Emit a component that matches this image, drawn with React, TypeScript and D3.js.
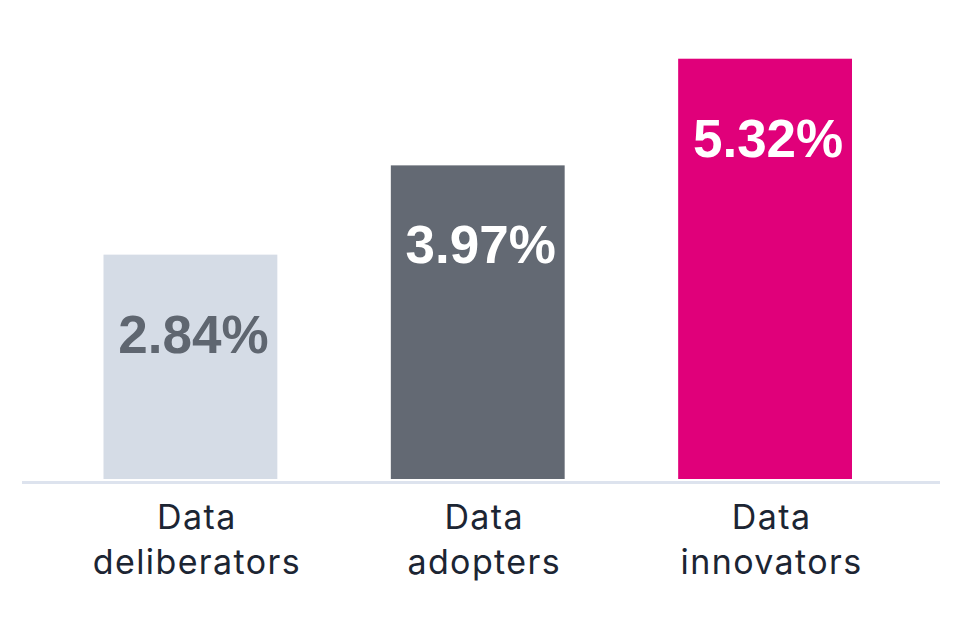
import React, { useEffect, useRef } from 'react';
import * as d3 from 'd3';

const categories = ['Data deliberators', 'Data adopters', 'Data innovators'];
const values = [2.84, 3.97, 5.32];
const valueLabels = ['2.84%', '3.97%', '5.32%'];
const barColors = ['#d5dce6', '#636973', '#e0007a'];
const labelColors = ['#5f6670', '#ffffff', '#ffffff'];

const App: React.FC = () => {
  const svgRef = useRef<SVGSVGElement>(null);

  useEffect(() => {
    if (!svgRef.current) return;
    const svg = d3.select(svgRef.current);
    svg.selectAll('*').remove();

    const x = d3.scaleBand<string>()
      .domain(categories)
      .range([103.5, 852])
      .paddingInner(0.395)
      .paddingOuter(0);

    const y = d3.scaleLinear().domain([0, 6]).range([479, 5]);

    // baseline
    svg.append('line')
      .attr('x1', 22).attr('x2', 940)
      .attr('y1', 482.5).attr('y2', 482.5)
      .attr('stroke', '#dde3ee')
      .attr('stroke-width', 3);

    const data = categories.map((c, i) => ({ c, v: values[i], label: valueLabels[i], i }));

    svg.selectAll('.bar')
      .data(data)
      .join('rect')
      .attr('class', 'bar')
      .attr('x', d => x(d.c)!)
      .attr('width', x.bandwidth())
      .attr('y', d => y(d.v))
      .attr('height', d => y(0) - y(d.v))
      .attr('fill', d => barColors[d.i]);

    svg.selectAll('.val')
      .data(data)
      .join('text')
      .attr('class', 'val')
      .attr('x', d => x(d.c)! + x.bandwidth() / 2 + 3)
      .attr('y', d => y(d.v) + 98)
      .attr('text-anchor', 'middle')
      .attr('fill', d => labelColors[d.i])
      .style('font-family', '"Liberation Sans", Arial, sans-serif')
      .style('font-weight', 'bold')
      .style('font-size', '53px')
      .text(d => d.label);

    // category labels, two lines each
    const cat = svg.selectAll('.cat')
      .data(data)
      .join('text')
      .attr('class', 'cat')
      .attr('text-anchor', 'middle')
      .attr('fill', '#1c2533')
      .style('font-family', 'Inter, "Noto Sans", sans-serif')
      .style('font-size', '34px')
      .style('letter-spacing', '1.4px');

    cat.each(function (d) {
      const words = d.c.split(' ');
      const t = d3.select(this);
      const cx = x(d.c)! + x.bandwidth() / 2 + 6.5;
      t.append('tspan').attr('x', cx).attr('y', 529).text(words[0]);
      t.append('tspan').attr('x', cx).attr('y', 574).text(words.slice(1).join(' '));
    });
  }, []);

  return (
    <div style={{ width: 958, height: 629, background: '#fff', margin: -8 }}>
      <svg ref={svgRef} width={958} height={629} style={{ display: 'block' }} />
    </div>
  );
};

export default App;
